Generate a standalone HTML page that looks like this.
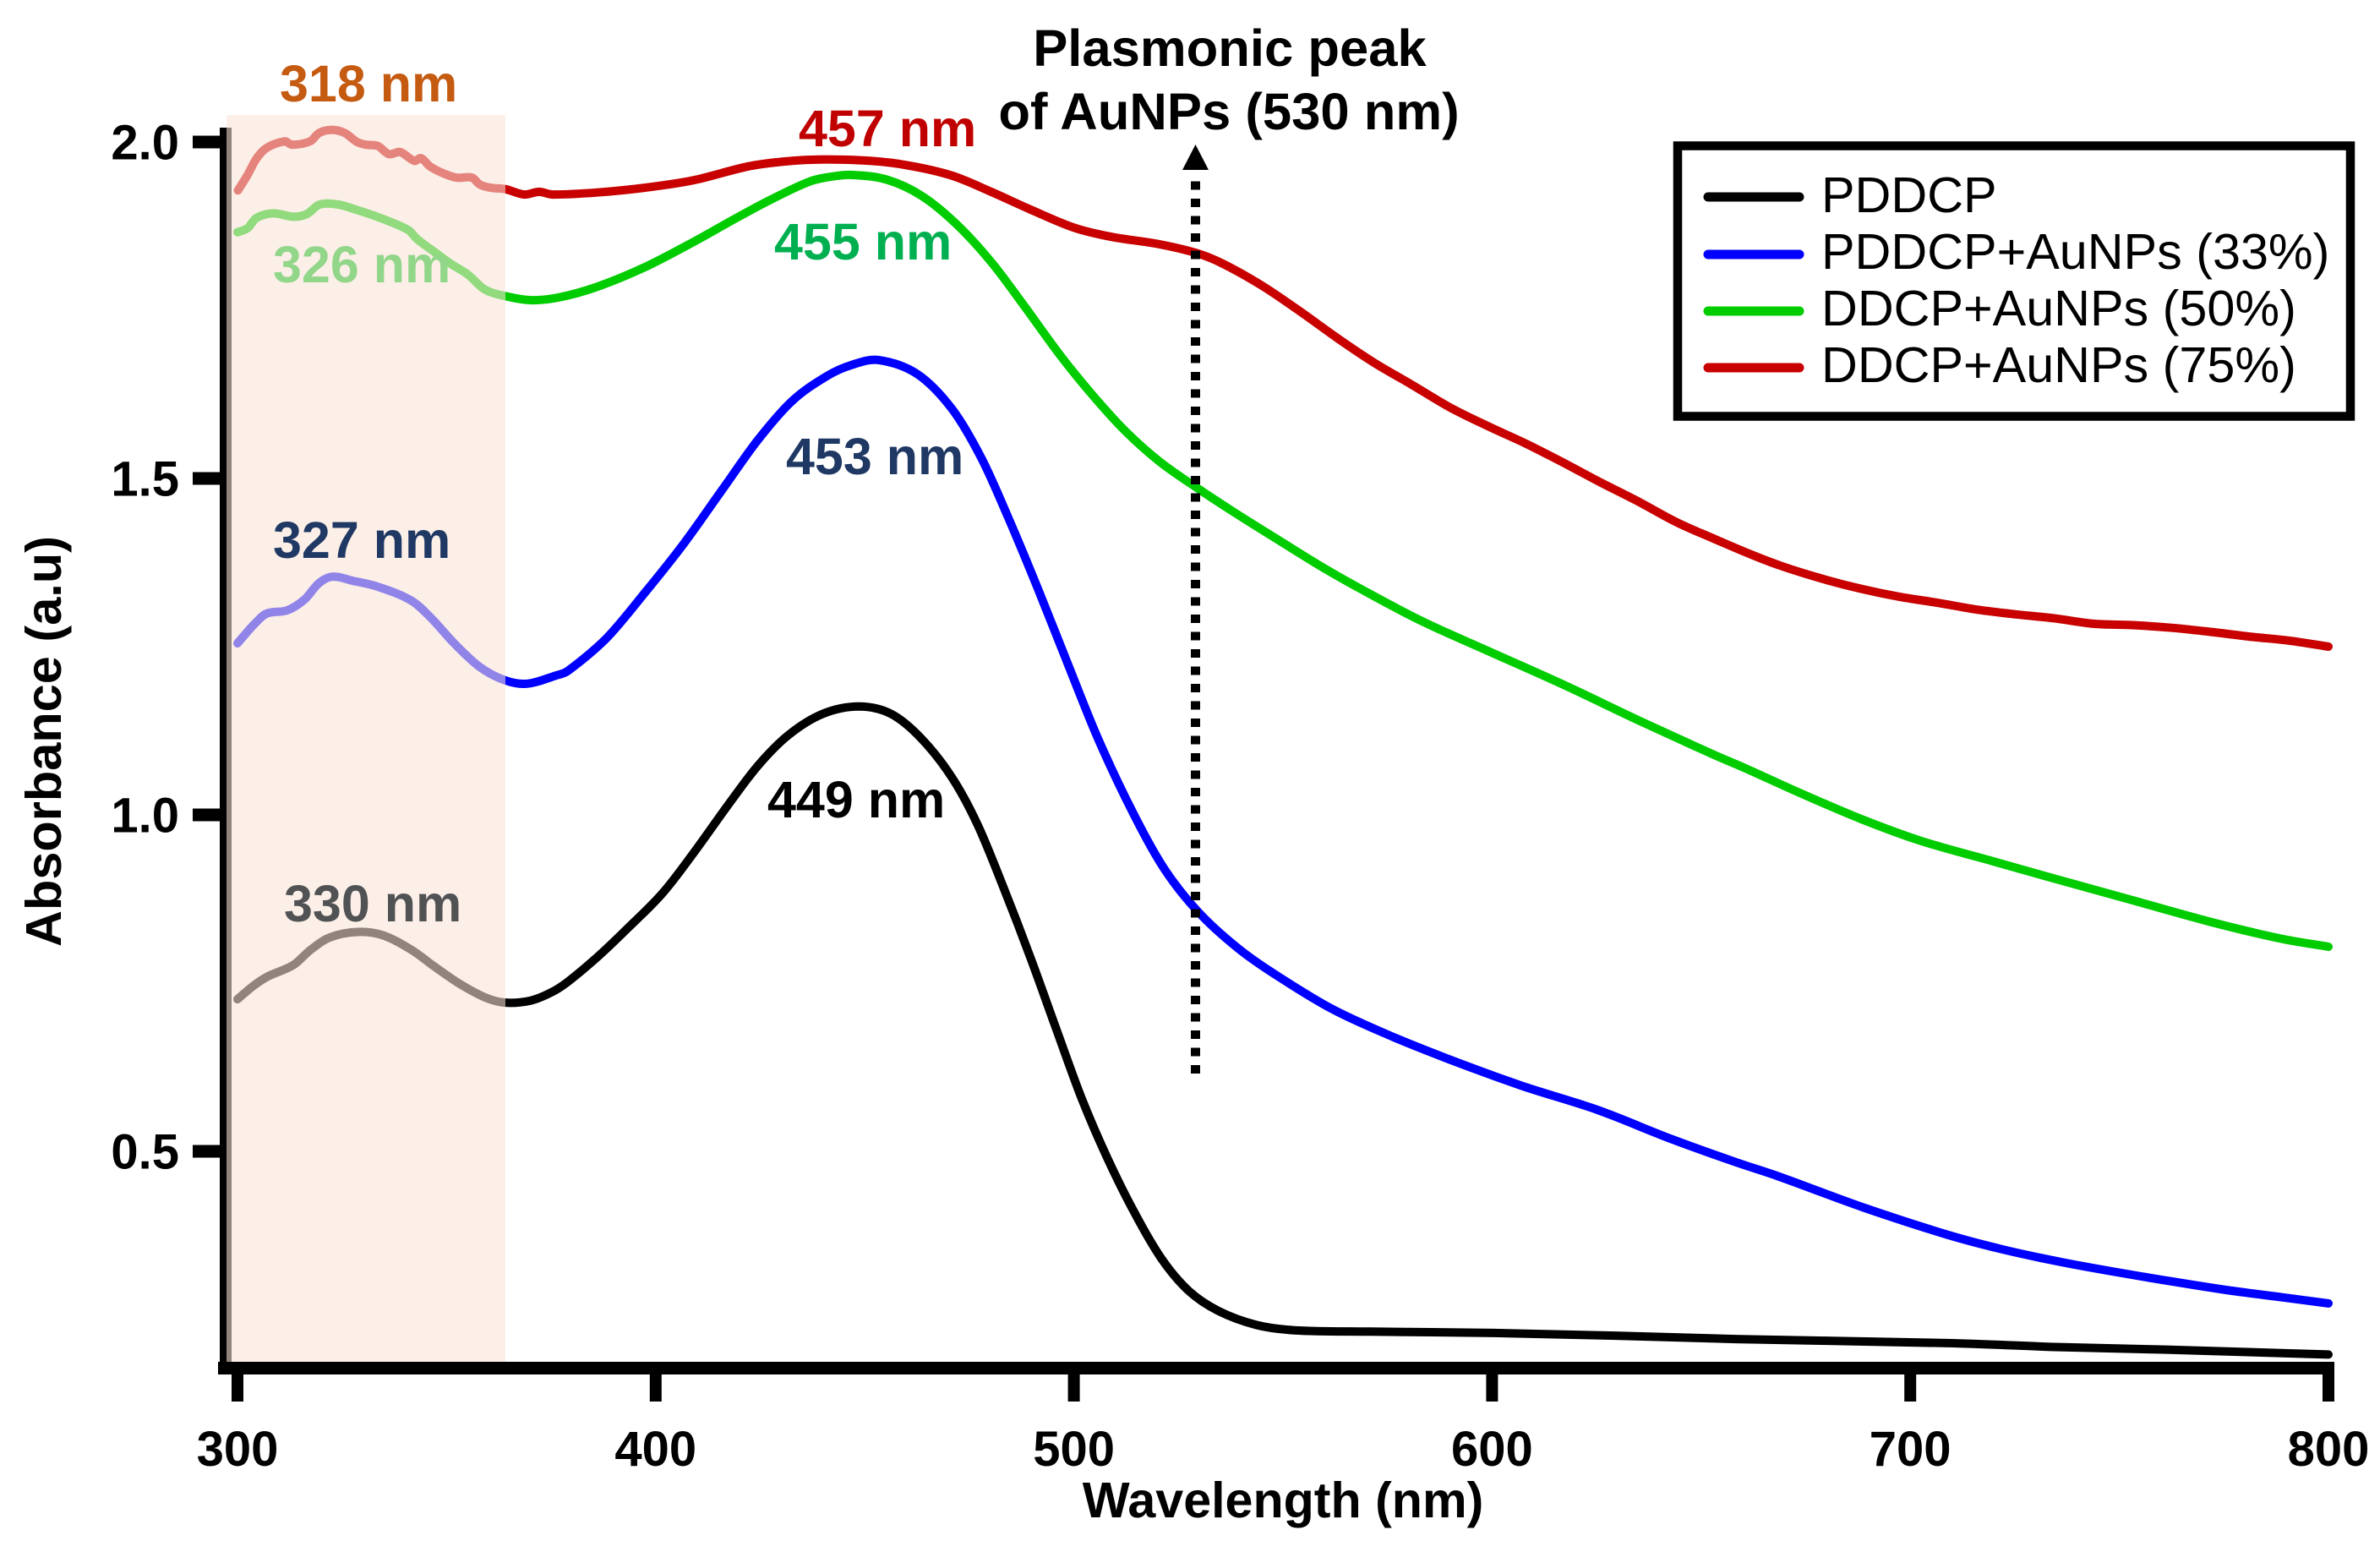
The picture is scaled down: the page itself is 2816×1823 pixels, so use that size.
<!DOCTYPE html>
<html lang="en">
<head>
<meta charset="utf-8">
<title>Absorbance spectra of PDDCP and AuNP composites</title>
<style>
html,body{margin:0;padding:0;background:#fff;}
svg{display:block;font-family:"Liberation Sans",Arial,sans-serif;}
.b{font-weight:700;}
</style>
</head>
<body>
<svg id="chart" xmlns="http://www.w3.org/2000/svg" width="2816" height="1823" viewBox="0 0 2816 1823">
  <rect x="0" y="0" width="2816" height="1823" fill="#ffffff"/>
  <g id="series"></g>
  <g id="axes"></g>
  <rect x="268" y="136" width="330" height="1475" fill="#fae4d7" fill-opacity="0.58"/>
  <g>
    <line x1="1414.5" y1="1270" x2="1414.5" y2="205" stroke="#000" stroke-width="11" stroke-dasharray="10 10.5"/>
    <polygon points="1414.5,171 1430,201 1399,201" fill="#000"/>
  </g>
  <g class="b" font-size="61">
    <text x="331" y="120" fill="#c55a11">318 nm</text>
    <text x="323" y="334" fill="#92d68a">326 nm</text>
    <text x="323" y="660" fill="#1f3864">327 nm</text>
    <text x="336" y="1090" fill="#505254">330 nm</text>
    <text x="945" y="173" fill="#c00000">457 nm</text>
    <text x="916" y="307" fill="#00b050">455 nm</text>
    <text x="930" y="561" fill="#1f3864">453 nm</text>
    <text x="908" y="967" fill="#000000">449 nm</text>
  </g>
  <g class="b" font-size="61.6" text-anchor="middle" fill="#000">
    <text x="1455" y="78">Plasmonic peak</text>
    <text x="1454" y="153">of AuNPs (530 nm)</text>
  </g>
  <text class="b" x="1518" y="1795" font-size="59.2" text-anchor="middle" fill="#000">Wavelength (nm)</text>
  <text class="b" transform="translate(72,877) rotate(-90)" font-size="59.5" text-anchor="middle" fill="#000">Absorbance (a.u)</text>
  <g>
    <rect x="1985" y="172.5" width="796" height="320" fill="#fff" stroke="#000" stroke-width="10.5"/>
    <g>
      <line x1="2021" y1="233" x2="2129" y2="233" stroke="#000000" stroke-width="11" stroke-linecap="round"/>
      <text x="2155" y="251" font-size="59.3" fill="#000">PDDCP</text>
    </g>
    <g>
      <line x1="2021" y1="301" x2="2129" y2="301" stroke="#0000ff" stroke-width="11" stroke-linecap="round"/>
      <text x="2155" y="318" font-size="59.3" fill="#000">PDDCP+AuNPs (33%)</text>
    </g>
    <g>
      <line x1="2021" y1="368" x2="2129" y2="368" stroke="#00cc00" stroke-width="11" stroke-linecap="round"/>
      <text x="2155" y="385" font-size="59.3" fill="#000">DDCP+AuNPs (50%)</text>
    </g>
    <g>
      <line x1="2021" y1="435" x2="2129" y2="435" stroke="#c80000" stroke-width="11" stroke-linecap="round"/>
      <text x="2155" y="452" font-size="59.3" fill="#000">DDCP+AuNPs (75%)</text>
    </g>
  </g>
</svg>
<script>
var xTicks = [300, 400, 500, 600, 700, 800];
var xTickLabels = ['300', '400', '500', '600', '700', '800'];
var yTicks = [0.5, 1.0, 1.5, 2.0];
var yTickLabels = ['0.5', '1.0', '1.5', '2.0'];

var blackWavelength = [300,303.8,307.3,313.4,317.4,322.1,328.8,334.8,341.7,347,353.1,359.1,364,370.1,375,379,386.1,393.4,401.7,408.9,417,424.3,431.6,439.9,448.6,456.3,463.6,470.9,477,483.3,489.5,495.6,501.9,508,514.3,520.9,527.4,534.5,543.6,552.7,570.7,600.5,629.5,658.2,708.9,735.6,762.1,800];
var blackAbsorbance = [0.726,0.746,0.760,0.777,0.799,0.818,0.826,0.821,0.799,0.775,0.749,0.729,0.721,0.724,0.736,0.752,0.789,0.832,0.884,0.942,1.012,1.072,1.118,1.150,1.161,1.150,1.113,1.055,0.985,0.890,0.790,0.685,0.578,0.490,0.411,0.341,0.293,0.263,0.242,0.234,0.232,0.230,0.226,0.221,0.215,0.209,0.205,0.198];

var blueWavelength = [300,303.8,306.9,311.9,316,319.4,322.7,327.5,333.6,341.7,346.4,351.8,357.9,364,369.3,376.1,379,388.3,397.4,406.7,416,424.3,432.6,440.9,447,453.3,462.6,470.9,478,484.3,491.6,498.7,506,514.3,521.6,529.7,539.2,548.1,561.6,575.2,588.8,606.8,625,643,658.2,668.4,688.6,708.9,722.2,735.6,748.8,762.1,775.5,788.9,800];
var blueAbsorbance = [1.255,1.282,1.299,1.304,1.320,1.344,1.354,1.348,1.339,1.318,1.292,1.255,1.220,1.200,1.195,1.207,1.214,1.263,1.330,1.403,1.484,1.556,1.615,1.652,1.669,1.676,1.655,1.603,1.529,1.442,1.333,1.222,1.110,1.001,0.920,0.856,0.802,0.763,0.712,0.673,0.639,0.598,0.562,0.518,0.484,0.463,0.417,0.376,0.354,0.336,0.321,0.307,0.294,0.283,0.274];

var greenWavelength = [300,302.4,304.5,308.5,313.4,316.6,319.6,324.1,328.1,334.2,340.9,342.9,347,351,355.1,359.1,364,370.1,376.8,386.1,397.4,408.9,419.3,427.4,436.7,442,447,455.3,463.6,471.9,480.2,488.3,496.6,503.9,512.2,520.5,529.2,537.5,549.3,560,570,583.5,598.9,616.9,635.2,653.2,660.3,674.2,688.2,702.2,719.8,734.6,753.2,771.8,788.7,800];
var greenAbsorbance = [1.866,1.872,1.887,1.894,1.889,1.893,1.907,1.907,1.900,1.887,1.869,1.856,1.837,1.819,1.803,1.781,1.771,1.765,1.769,1.785,1.814,1.851,1.887,1.914,1.941,1.9485,1.951,1.944,1.920,1.878,1.822,1.755,1.684,1.628,1.571,1.525,1.487,1.453,1.407,1.366,1.331,1.287,1.244,1.194,1.140,1.089,1.070,1.031,0.994,0.962,0.931,0.905,0.873,0.841,0.816,0.804];

var redWavelength = [300.1,302.4,304.5,306.9,311.3,313,317.4,319.4,322.1,325.5,328.6,330.8,333.6,336.2,338.9,342.3,343.9,346,349,352.4,356.1,357.9,360.5,364,368.6,372.1,375.3,386.1,397.4,408.9,422.3,430.6,438.9,451.3,460.6,470.9,480.2,489.5,499.9,509,520.5,529.8,535.7,544.6,553.7,562.9,571.8,580.9,589.8,598.9,608,616.9,626,635.2,644.1,653.2,662.3,669.6,678.9,688.2,697.5,706.8,716,725.3,734.6,743.9,753.2,762.5,771.8,781.1,790.5,800];
var redAbsorbance = [1.928,1.951,1.975,1.991,2.001,1.996,2.001,2.013,2.018,2.014,2.000,1.996,1.994,1.982,1.985,1.972,1.976,1.964,1.954,1.947,1.947,1.937,1.932,1.930,1.922,1.926,1.922,1.925,1.932,1.943,1.964,1.971,1.974,1.972,1.965,1.950,1.926,1.900,1.873,1.859,1.848,1.834,1.819,1.788,1.750,1.709,1.672,1.639,1.606,1.578,1.552,1.524,1.494,1.465,1.435,1.410,1.386,1.369,1.351,1.336,1.324,1.315,1.305,1.298,1.292,1.284,1.282,1.278,1.272,1.265,1.259,1.250];

var NS = 'http://www.w3.org/2000/svg';

function xScale(nm) {
  return 281 + (nm - 300) * 4.948;
}
function yScale(v) {
  return 168 + (2 - v) * 796;
}

function curvePath(xs, ys) {
  var n = xs.length;
  var px = [];
  var py = [];
  var i;
  for (i = 0; i < n; i++) {
    px.push(xScale(xs[i]));
    py.push(yScale(ys[i]));
  }
  var slope = [];
  for (i = 0; i < n; i++) {
    var a = Math.max(i - 1, 0);
    var b = Math.min(i + 1, n - 1);
    slope.push((py[b] - py[a]) / (px[b] - px[a]));
  }
  var d = 'M' + px[0].toFixed(1) + ' ' + py[0].toFixed(1);
  for (i = 0; i < n - 1; i++) {
    var h = (px[i + 1] - px[i]) / 3;
    d += 'C' + (px[i] + h).toFixed(1) + ' ' + (py[i] + slope[i] * h).toFixed(1) + ' ' +
      (px[i + 1] - h).toFixed(1) + ' ' + (py[i + 1] - slope[i + 1] * h).toFixed(1) + ' ' +
      px[i + 1].toFixed(1) + ' ' + py[i + 1].toFixed(1);
  }
  return d;
}

var seriesLayer = document.getElementById('series');
var axesLayer = document.getElementById('axes');

var blackPath = document.createElementNS(NS, 'path');


blackPath.setAttribute('d', curvePath(blackWavelength, blackAbsorbance));
blackPath.setAttribute('stroke', '#000000');
seriesLayer.appendChild(blackPath);

var bluePath = document.createElementNS(NS, 'path');


bluePath.setAttribute('d', curvePath(blueWavelength, blueAbsorbance));
bluePath.setAttribute('stroke', '#0000ff');
seriesLayer.appendChild(bluePath);

var greenPath = document.createElementNS(NS, 'path');


greenPath.setAttribute('d', curvePath(greenWavelength, greenAbsorbance));
greenPath.setAttribute('stroke', '#00cc00');
seriesLayer.appendChild(greenPath);

var redPath = document.createElementNS(NS, 'path');


redPath.setAttribute('d', curvePath(redWavelength, redAbsorbance));
redPath.setAttribute('stroke', '#c80000');
seriesLayer.appendChild(redPath);

[blackPath, bluePath, greenPath, redPath].forEach(function (p) {
  p.setAttribute('fill', 'none');
  p.setAttribute('stroke-width', '10');
  p.setAttribute('stroke-linecap', 'round');
  p.setAttribute('stroke-linejoin', 'round');
});

var ySpine = document.createElementNS(NS, 'rect');


ySpine.setAttribute('x', '260');
ySpine.setAttribute('y', '151');
ySpine.setAttribute('width', '14');
ySpine.setAttribute('height', '1475');
ySpine.setAttribute('fill', '#000');
axesLayer.appendChild(ySpine);

var xSpine = document.createElementNS(NS, 'rect');


xSpine.setAttribute('x', '258');
xSpine.setAttribute('y', '1611');
xSpine.setAttribute('width', String(xScale(800) + 7 - 258));
xSpine.setAttribute('height', '15');
xSpine.setAttribute('fill', '#000');
axesLayer.appendChild(xSpine);

xTicks.forEach(function (t, i) {
  var mark = document.createElementNS(NS, 'rect');
  
  
  mark.setAttribute('x', String(xScale(t) - 7));
  mark.setAttribute('y', '1620');
  mark.setAttribute('width', '14');
  mark.setAttribute('height', '38');
  mark.setAttribute('fill', '#000');
  axesLayer.appendChild(mark);

  var label = document.createElementNS(NS, 'text');
  
  
  label.setAttribute('x', String(xScale(t)));
  label.setAttribute('y', '1734');
  label.setAttribute('text-anchor', 'middle');
  label.setAttribute('font-size', '58');
  label.setAttribute('font-weight', '700');
  label.setAttribute('fill', '#000');
  label.textContent = xTickLabels[i];
  axesLayer.appendChild(label);
});

yTicks.forEach(function (t, i) {
  var mark = document.createElementNS(NS, 'rect');
  
  
  mark.setAttribute('x', '228');
  mark.setAttribute('y', String(yScale(t) - 7.5));
  mark.setAttribute('width', '36');
  mark.setAttribute('height', '15');
  mark.setAttribute('fill', '#000');
  axesLayer.appendChild(mark);

  var label = document.createElementNS(NS, 'text');
  
  
  label.setAttribute('x', '212');
  label.setAttribute('y', String(yScale(t) + 20.5));
  label.setAttribute('text-anchor', 'end');
  label.setAttribute('font-size', '58');
  label.setAttribute('font-weight', '700');
  label.setAttribute('fill', '#000');
  label.textContent = yTickLabels[i];
  axesLayer.appendChild(label);
});
</script>
</body>
</html>
